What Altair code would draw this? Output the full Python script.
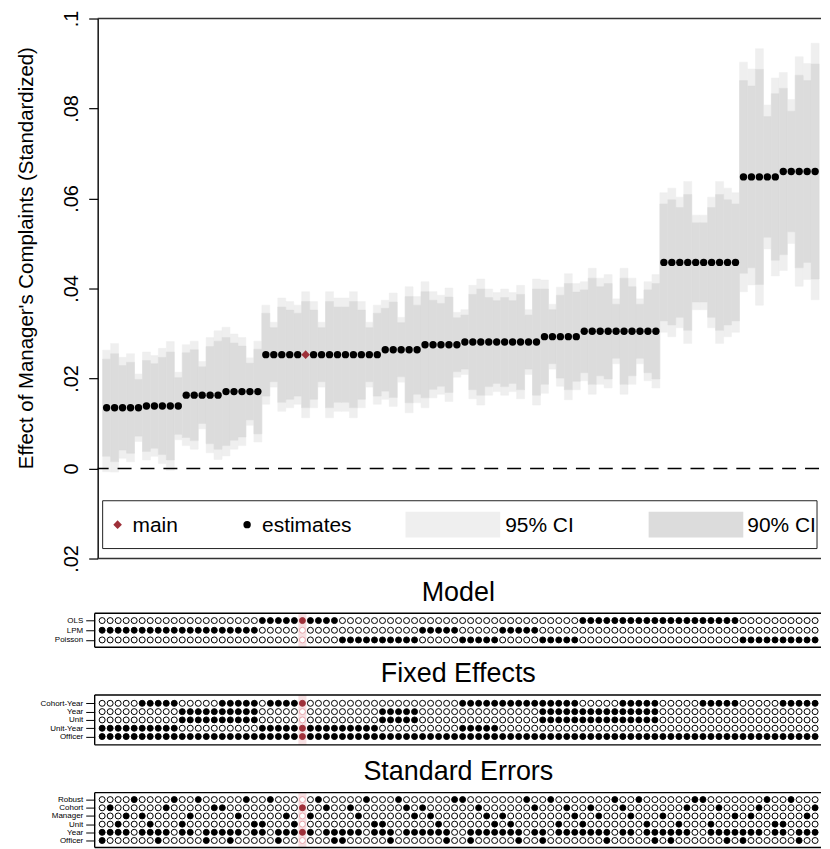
import altair as alt
import pandas as pd

FONT = "Liberation Sans"

# ---------------- data ----------------
estimate = [
    .0135, .0135, .0135, .0135, .0135,
    .0139, .0139, .0139, .0139, .0139,
    .0163, .0163, .0163, .0163, .0163,
    .0171, .0171, .0171, .0171, .0171,
    .0253, .0253, .0253, .0253, .0253,
    .0253, .0253, .0253, .0253, .0253,
    .0253, .0253, .0253, .0253, .0253,
    .0264, .0264, .0264, .0264, .0264,
    .0275, .0275, .0275, .0275, .0275,
    .0281, .0281, .0281, .0281, .0281,
    .0281, .0281, .0281, .0281, .0281,
    .0293, .0293, .0293, .0293, .0293,
    .0305, .0305, .0305, .0305, .0305,
    .0305, .0305, .0305, .0305, .0305,
    .0458, .0458, .0458, .0458, .0458,
    .0458, .0458, .0458, .0458, .0458,
    .0648, .0648, .0648, .0648, .0648,
    .0660, .0660, .0660, .0660, .0660,
]
ci95_lo = [
    -.0007, -.0008, .0023, .0015, .0060,
    .0019, .0027, .0011, -.0004, .0064,
    .0051, .0043, .0088, .0035, .0020,
    .0028, .0043, .0051, .0096, .0059,
    .0143, .0181, .0127, .0135, .0143,
    .0113, .0135, .0181, .0113, .0127,
    .0127, .0113, .0135, .0181, .0143,
    .0154, .0138, .0192, .0124, .0146,
    .0135, .0157, .0165, .0149, .0203,
    .0209, .0155, .0141, .0163, .0171,
    .0163, .0171, .0155, .0209, .0141,
    .0167, .0221, .0183, .0153, .0175,
    .0195, .0165, .0187, .0179, .0233,
    .0165, .0187, .0233, .0195, .0179,
    .0303, .0293, .0313, .0278, .0353,
    .0353, .0313, .0278, .0293, .0303,
    .0393, .0408, .0363, .0488, .0428,
    .0440, .0500, .0405, .0420, .0375,
]
ci95_hi = [
    .0263, .0278, .0247, .0255, .0210,
    .0259, .0251, .0267, .0282, .0214,
    .0275, .0283, .0238, .0291, .0306,
    .0314, .0299, .0291, .0246, .0283,
    .0363, .0325, .0379, .0371, .0363,
    .0393, .0371, .0325, .0393, .0379,
    .0379, .0393, .0371, .0325, .0363,
    .0374, .0390, .0336, .0404, .0382,
    .0415, .0393, .0385, .0401, .0347,
    .0353, .0407, .0421, .0399, .0391,
    .0399, .0391, .0407, .0353, .0421,
    .0419, .0365, .0403, .0433, .0411,
    .0415, .0445, .0423, .0431, .0377,
    .0445, .0423, .0377, .0415, .0431,
    .0613, .0623, .0603, .0638, .0563,
    .0563, .0603, .0638, .0623, .0613,
    .0903, .0888, .0933, .0808, .0868,
    .0880, .0820, .0915, .0900, .0945,
]
ci90_lo = [
    .0027, .0015, .0041, .0034, .0072,
    .0038, .0045, .0031, .0019, .0076,
    .0069, .0062, .0100, .0055, .0043,
    .0051, .0063, .0070, .0108, .0077,
    .0161, .0193, .0147, .0154, .0161,
    .0135, .0154, .0193, .0135, .0147,
    .0147, .0135, .0154, .0193, .0161,
    .0172, .0158, .0204, .0146, .0165,
    .0157, .0176, .0183, .0169, .0215,
    .0221, .0175, .0163, .0182, .0189,
    .0182, .0189, .0175, .0221, .0163,
    .0187, .0233, .0201, .0175, .0194,
    .0213, .0187, .0206, .0199, .0245,
    .0187, .0206, .0245, .0213, .0199,
    .0328, .0319, .0336, .0307, .0370,
    .0370, .0336, .0307, .0319, .0328,
    .0434, .0446, .0409, .0514, .0463,
    .0475, .0526, .0446, .0458, .0421,
]
ci90_hi = [
    .0243, .0255, .0229, .0236, .0198,
    .0240, .0233, .0247, .0259, .0202,
    .0257, .0264, .0226, .0271, .0283,
    .0291, .0279, .0272, .0234, .0265,
    .0345, .0313, .0359, .0352, .0345,
    .0371, .0352, .0313, .0371, .0359,
    .0359, .0371, .0352, .0313, .0345,
    .0356, .0370, .0324, .0382, .0363,
    .0393, .0374, .0367, .0381, .0335,
    .0341, .0387, .0399, .0380, .0373,
    .0380, .0373, .0387, .0341, .0399,
    .0399, .0353, .0385, .0411, .0392,
    .0397, .0423, .0404, .0411, .0365,
    .0423, .0404, .0365, .0397, .0411,
    .0588, .0597, .0580, .0609, .0546,
    .0546, .0580, .0609, .0597, .0588,
    .0862, .0850, .0887, .0782, .0833,
    .0845, .0794, .0874, .0862, .0899,
]

model_rows = ["OLS", "LPM", "Poisson"]
fe_rows = ["Cohort-Year", "Year", "Unit", "Unit-Year", "Officer"]
se_rows = ["Robust", "Cohort", "Manager", "Unit", "Year", "Officer"]

spec_model = (["LPM"] * 20 + ["OLS"] * 10 + ["Poisson"] * 10 + ["LPM"] * 5 +
              ["Poisson"] * 5 + ["LPM"] * 5 + ["Poisson"] * 5 + ["OLS"] * 20 +
              ["Poisson"] * 10)
spec_fe = (["A"] * 5 + ["B"] * 5 + ["C"] * 5 + ["D"] * 5 + ["A"] + ["B"] * 5 +
           ["A"] * 4 + ["A"] * 5 + ["C"] * 5 + ["E"] * 5 + ["B"] * 5 + ["F"] * 5 +
           ["D"] * 5 + ["C"] * 5 + ["D"] * 5 + ["E"] * 5 + ["F"] * 5 + ["E"] * 5 +
           ["F"] * 5)
fe_sets = {
    "A": ["Unit-Year", "Officer"],
    "B": ["Cohort-Year", "Unit-Year", "Officer"],
    "C": ["Year", "Unit", "Officer"],
    "D": ["Cohort-Year", "Year", "Unit", "Officer"],
    "E": ["Officer"],
    "F": ["Cohort-Year", "Officer"],
}
se_sets = {
    "R": ["Robust"],
    "YC": ["Cohort", "Year"],
    "YM": ["Manager", "Year"],
    "YU": ["Unit", "Year"],
    "YO": ["Year", "Officer"],
}
spec_se = [
    "YO", "YC", "YU", "YM", "R",
    "YM", "YU", "YO", "YC", "R",
    "YU", "YM", "R", "YO", "YC",
    "YC", "YO", "YM", "R", "YU",
    "YU", "R", "YO", "YM", "YU",
    "YC", "YM", "R", "YC", "YO",
    "YO", "YC", "YM", "R", "YU",
    "YU", "YO", "R", "YC", "YM",
    "YC", "YM", "YU", "YO", "R",
    "R", "YO", "YC", "YM", "YU",
    "YM", "YU", "YO", "R", "YC",
    "YO", "R", "YU", "YC", "YM",
    "YU", "YC", "YM", "YO", "R",
    "YC", "YM", "R", "YU", "YO",
    "YM", "YO", "YU", "YC", "R",
    "R", "YU", "YC", "YO", "YM",
    "YO", "YM", "YC", "R", "YU",
    "YU", "R", "YO", "YM", "YC",
]
MAIN = 26

# ---------------- tables ----------------
n = len(estimate)
spec = list(range(1, n + 1))

top = pd.DataFrame(dict(spec=spec, est=estimate, lo95=ci95_lo, hi95=ci95_hi,
                        lo90=ci90_lo, hi90=ci90_hi))
top["x1"] = top["spec"] - 0.5
top["x2"] = top["spec"] + 0.5


def panel_table(rows, members):
    recs = []
    for i, s in enumerate(spec):
        for r in rows:
            on = r in members(i)
            state = ("main_" if s == MAIN else "") + ("on" if on else "off")
            recs.append(dict(spec=s, row=r, state=state))
    return pd.DataFrame(recs)


model_df = panel_table(model_rows, lambda i: [spec_model[i]])
fe_df = panel_table(fe_rows, lambda i: fe_sets[spec_fe[i]])
se_df = panel_table(se_rows, lambda i: se_sets[spec_se[i]])

# ---------------- layout constants ----------------
W = 724
TX = alt.Scale(domain=[-0.126, 90.49], nice=False, zero=False)
PX = alt.Scale(domain=[0.44, 90.49], nice=False, zero=False)
RED = "#9e3039"
one = pd.DataFrame({"a": [0]})


def frame(height, color="black", sw=1.4, left=True, x0=0):
    layers = [
        alt.Chart(one).mark_rule(color=color, strokeWidth=sw).encode(
            x=alt.value(x0), x2=alt.value(W + 2), y=alt.value(0)),
        alt.Chart(one).mark_rule(color=color, strokeWidth=sw).encode(
            x=alt.value(x0), x2=alt.value(W + 2), y=alt.value(height)),
    ]
    if left:
        layers.append(alt.Chart(one).mark_rule(color=color, strokeWidth=sw).encode(
            x=alt.value(x0), y=alt.value(0), y2=alt.value(height)))
    return layers


# ---------------- top chart ----------------
H = 542
ys = alt.Scale(domain=[-0.02, 0.1], nice=False, zero=False)
yaxis = alt.Axis(
    title="Effect of Manager's Complaints (Standardized)",
    values=[-0.02, 0, 0.02, 0.04, 0.06, 0.08, 0.1],
    labelExpr="datum.value == 0 ? '0' : replace(format(abs(datum.value), '.2~f'), '0.', '.')",
    labelAngle=270, labelAlign="center", labelBaseline="bottom",
    labelFontSize=20, titleFontSize=20.5, titleFontWeight="normal",
    titleAngle=270, titleAlign="center", titleBaseline="bottom", titleY=240,
    tickSize=9, labelPadding=7, titlePadding=25, grid=False,
    domainColor="black", domainWidth=1.4, tickColor="black", tickWidth=1.2,
    labelColor="black", titleColor="black",
)
base = alt.Chart(top)
ci95 = base.mark_rect(color="#efefef", stroke="#efefef", strokeWidth=0.5).encode(
    x=alt.X("x1:Q", scale=TX, axis=None), x2="x2",
    y=alt.Y("lo95:Q", scale=ys, axis=yaxis), y2="hi95")
ci90 = base.mark_rect(color="#dcdcdc", stroke="#dcdcdc", strokeWidth=0.5).encode(
    x=alt.X("x1:Q", scale=TX, axis=None), x2="x2",
    y=alt.Y("lo90:Q", scale=ys), y2="hi90")
zero = alt.Chart(pd.DataFrame({"z": [0.0]})).mark_rule(
    color="black", strokeDash=[14, 9], strokeWidth=1.4).encode(y=alt.Y("z:Q", scale=ys))
dots = base.transform_filter(f"datum.spec != {MAIN}").mark_circle(
    size=55, color="black", opacity=1).encode(
    x=alt.X("spec:Q", scale=TX), y=alt.Y("est:Q", scale=ys))
main_pt = base.transform_filter(f"datum.spec == {MAIN}").mark_point(
    shape="diamond", filled=True, size=75, color=RED, opacity=1).encode(
    x=alt.X("spec:Q", scale=TX), y=alt.Y("est:Q", scale=ys))

leg_box = alt.Chart(one).mark_rect(fill="white", stroke="#222", strokeWidth=1).encode(
    x=alt.value(5), x2=alt.value(722), y=alt.value(484), y2=alt.value(532))
leg_sw95 = alt.Chart(one).mark_rect(fill="#efefef").encode(
    x=alt.value(309), x2=alt.value(404), y=alt.value(495), y2=alt.value(521))
leg_sw90 = alt.Chart(one).mark_rect(fill="#dcdcdc").encode(
    x=alt.value(553), x2=alt.value(648), y=alt.value(495), y2=alt.value(521))
leg_dia = alt.Chart(one).mark_point(shape="diamond", filled=True, size=75, color=RED, opacity=1).encode(
    x=alt.value(20), y=alt.value(508))
leg_dot = alt.Chart(one).mark_circle(size=55, color="black", opacity=1).encode(
    x=alt.value(150), y=alt.value(508))


def leg_text(label, x):
    return alt.Chart(one).mark_text(text=label, fontSize=21, align="left", baseline="middle",
                                    color="black").encode(x=alt.value(x), y=alt.value(509))


top_chart = alt.layer(
    ci95, ci90, zero, dots, main_pt,
    leg_box, leg_sw95, leg_sw90, leg_dia, leg_dot,
    leg_text("main", 35), leg_text("estimates", 165),
    leg_text("95% CI", 409), leg_text("90% CI", 652),
    *frame(H, color="#333", sw=1.4, left=False),
).properties(width=W, height=H)

# ---------------- panels ----------------
states = ["on", "off", "main_on", "main_off"]
fills = ["black", "white", RED, "white"]
strokes = ["black", "black", RED, "#e6a3aa"]


def panel(df, rows, title, height, pad):
    band = alt.Chart(pd.DataFrame({"x1": [MAIN - 0.5], "x2": [MAIN + 0.5]})).mark_rect(
        color="#f7e1e3").encode(x=alt.X("x1:Q", scale=PX, axis=None), x2="x2",
                                y=alt.value(0), y2=alt.value(height))
    pts = alt.Chart(df).mark_point(shape="circle", filled=True, size=36, strokeWidth=1,
                                   opacity=1).encode(
        x=alt.X("spec:Q", scale=PX, axis=None),
        y=alt.Y("row:N", sort=rows, scale=alt.Scale(type="point", padding=pad),
                axis=alt.Axis(title=None, labelFontSize=8, tickSize=9, domain=False,
                              offset=3, labelPadding=3, tickColor="black",
                              labelColor="black", grid=False)),
        fill=alt.Fill("state:N", scale=alt.Scale(domain=states, range=fills), legend=None),
        stroke=alt.Stroke("state:N", scale=alt.Scale(domain=states, range=strokes), legend=None),
    )
    return alt.layer(band, pts, *frame(height, x0=-3)).properties(
        width=W, height=height,
        title=alt.TitleParams(title, fontSize=27, fontWeight="normal", anchor="middle",
                              offset=6, color="black"))


model_panel = panel(model_df, model_rows, "Model", 34, 0.75)
fe_panel = panel(fe_df, fe_rows, "Fixed Effects", 50, 1.0)
se_panel = panel(se_df, se_rows, "Standard Errors", 55, 0.85)

chart = alt.vconcat(
    top_chart,
    alt.vconcat(model_panel, fe_panel, se_panel, spacing=12),
    spacing=6,
).properties(
    padding={"left": 8, "top": 0, "right": 0, "bottom": 0}
).configure(font=FONT).configure_view(stroke=None)

chart.save("out.html", embed_options={"renderer": "svg", "actions": False})
